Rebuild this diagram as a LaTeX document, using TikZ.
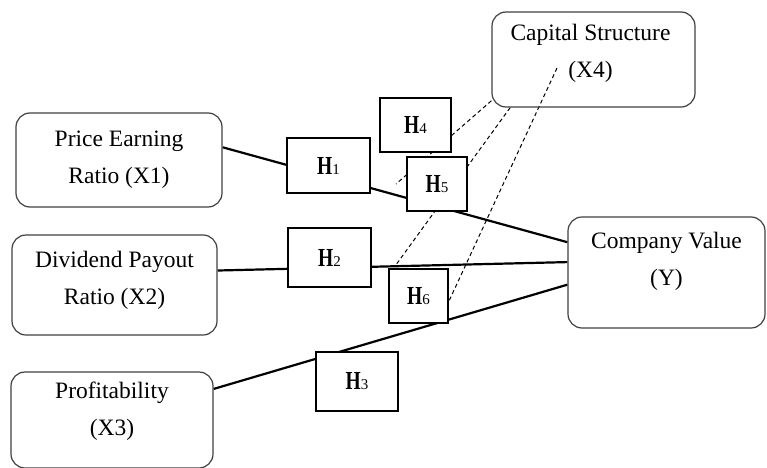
\documentclass[tikz,border=0pt]{standalone}
\usepackage{fontspec}
\usepackage{graphicx}
\setmainfont{Liberation Serif}
\usetikzlibrary{backgrounds}
\tikzset{
  varbox/.style={draw=black!75,line width=1.2pt,rounded corners=14pt,inner sep=0pt},
  vartext/.style={align=center,inner sep=0pt,font=\fontsize{23.5}{37}\selectfont},
  hypbox/.style={draw=black,line width=1.2pt,fill=white,inner sep=0pt},
  effect/.style={line width=2.2pt},
  moderate/.style={line width=1pt,dash pattern=on 4pt off 3pt}
}
\newcommand{\hlabel}[1]{{\fontsize{26}{26}\selectfont\bfseries\scalebox{0.75}[1]{H}}{\fontsize{15}{15}\selectfont #1}}
\begin{document}
\begin{tikzpicture}[x=1pt,y=1pt]
\path[use as bounding box] (0,0) rectangle (767,467);

% variables
\node[varbox,minimum width=206pt,minimum height=94pt] (x1) at (119,307) {};
\node[varbox,minimum width=205pt,minimum height=100pt] (x2) at (114.5,182) {};
\node[varbox,minimum width=202pt,minimum height=96pt] (x3) at (112,47) {};
\node[varbox,minimum width=203pt,minimum height=95pt] (x4) at (593.5,407.5) {};
\node[varbox,minimum width=197pt,minimum height=111pt] (y) at (666.5,194.5) {};

\node[vartext] (x1text) at (x1.center) {Price Earning\\Ratio (X1)};
\node[vartext] (x2text) at ([yshift=5pt]x2.center) {Dividend Payout\\Ratio (X2)};
\node[vartext] (x3text) at ([yshift=8.5pt]x3.center) {Profitability\\(X3)};
\node[vartext] (x4text) at ([xshift=-3pt,yshift=6pt]x4.center) {Capital Structure\\(X4)};
\node[vartext] (ytext) at ([yshift=11.5pt]y.center) {Company Value\\(Y)};

% hypotheses
\node[hypbox,minimum width=83pt,minimum height=55pt] (h1) at (328.5,301.5) {\hlabel{1}};
\node[hypbox,minimum width=83pt,minimum height=59pt] (h2) at (329.5,209.5) {\hlabel{2}};
\node[hypbox,minimum width=82pt,minimum height=59pt] (h3) at (357,85.5) {\hlabel{3}};
\node[hypbox,minimum width=71pt,minimum height=54pt] (h4) at (415.5,342) {\hlabel{4}};
\node[hypbox,minimum width=60pt,minimum height=54pt] (h5) at (437,283) {\hlabel{5}};
\node[hypbox,minimum width=59pt,minimum height=54pt] (h6) at (418.5,171) {\hlabel{6}};

\coordinate (m4) at (396,283);
\coordinate (c6) at (557,399);

\begin{scope}[on background layer]
\draw[effect] (x1.7) -- (y.163);
\draw[effect] (x2.8) -- coordinate[pos=0.507] (m2) (y.174);
\draw[effect] (x3.17) -- (y.187);
\draw[moderate] (x4.202) -- (m4);
\draw[moderate] (x4.210) -- (m2);
\draw[moderate] (c6) -- (h6.-11);
\end{scope}
\end{tikzpicture}
\end{document}
